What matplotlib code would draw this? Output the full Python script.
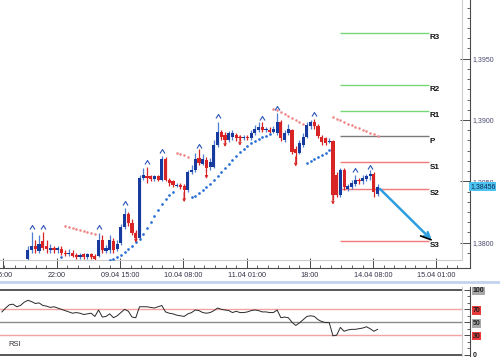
import numpy as np
import matplotlib
matplotlib.use("Agg")
import matplotlib.pyplot as plt
from matplotlib.path import Path
from matplotlib.ticker import FixedLocator, FixedFormatter, MultipleLocator
from matplotlib.transforms import blended_transform_factory
from matplotlib.lines import Line2D

plt.rcParams['font.family'] = ['Liberation Sans', 'DejaVu Sans']

# ---------------- data ----------------
bar_index = list(range(7, 102))
opens = [1.3787, 1.3794, 1.3797, 1.3793, 1.3801, 1.3797, 1.3794, 1.3796, 1.3794, 1.3795,
         1.3792, 1.3791, 1.3792, 1.3790, 1.3788, 1.3791, 1.3788, 1.3791, 1.3789, 1.3789,
         1.3802, 1.3793, 1.3794, 1.3801, 1.3795, 1.3800, 1.3813, 1.3823, 1.3816, 1.3808,
         1.3804, 1.3853, 1.3854, 1.3854, 1.3852, 1.3854, 1.3851, 1.3868, 1.3851, 1.3850,
         1.3846, 1.3847, 1.3846, 1.3843, 1.3858, 1.3859, 1.3869, 1.3864, 1.3867, 1.3862,
         1.3862, 1.3880, 1.3890, 1.3888, 1.3884, 1.3886, 1.3888, 1.3886, 1.3885, 1.3886,
         1.3885, 1.3889, 1.3892, 1.3894, 1.3892, 1.3892, 1.3890, 1.3889, 1.3898, 1.3884,
         1.3889, 1.3892, 1.3876, 1.3873, 1.3880, 1.3886, 1.3895, 1.3898, 1.3895, 1.3886,
         1.3885, 1.3882, 1.3883, 1.3855, 1.3839, 1.3859, 1.3844, 1.3845, 1.3848, 1.3851,
         1.3850, 1.3852, 1.3854, 1.3856, 1.3840]
closes = [1.3794, 1.3797, 1.3795, 1.3799, 1.3796, 1.3795, 1.3796, 1.3794, 1.3796, 1.3792,
          1.3791, 1.3792, 1.3789, 1.3788, 1.3790, 1.3788, 1.3791, 1.3788, 1.3787, 1.3802,
          1.3794, 1.3796, 1.3802, 1.3794, 1.3799, 1.3813, 1.3823, 1.3816, 1.3808, 1.3804,
          1.3853, 1.3855, 1.3853, 1.3852, 1.3854, 1.3851, 1.3868, 1.3851, 1.3849, 1.3847,
          1.3847, 1.3845, 1.3843, 1.3858, 1.3859, 1.3868, 1.3865, 1.3868, 1.3861, 1.3866,
          1.3880, 1.3890, 1.3886, 1.3884, 1.3889, 1.3889, 1.3885, 1.3885, 1.3886, 1.3885,
          1.3889, 1.3893, 1.3894, 1.3892, 1.3893, 1.3890, 1.3893, 1.3898, 1.3885, 1.3889,
          1.3893, 1.3874, 1.3873, 1.3881, 1.3886, 1.3896, 1.3898, 1.3895, 1.3887, 1.3882,
          1.3881, 1.3883, 1.3839, 1.3839, 1.3859, 1.3845, 1.3846, 1.3849, 1.3851, 1.3850,
          1.3853, 1.3854, 1.3856, 1.3841, 1.38456]
highs = [1.3797, 1.3809, 1.3802, 1.3806, 1.3809, 1.3802, 1.3799, 1.3797, 1.3797, 1.3797,
         1.3794, 1.3795, 1.3794, 1.3792, 1.3792, 1.3792, 1.3792, 1.3792, 1.3791, 1.3808,
         1.3806, 1.3798, 1.3806, 1.3804, 1.3802, 1.3815, 1.3828, 1.3825, 1.3819, 1.3810,
         1.3855, 1.3861, 1.3862, 1.3855, 1.3855, 1.3855, 1.3871, 1.3870, 1.3853, 1.3851,
         1.3849, 1.3849, 1.3848, 1.3859, 1.3863, 1.3873, 1.3876, 1.3872, 1.3870, 1.3869,
         1.3884, 1.3898, 1.3892, 1.3890, 1.3891, 1.3892, 1.3889, 1.3888, 1.3888, 1.3888,
         1.3892, 1.3896, 1.3898, 1.3898, 1.3894, 1.3894, 1.3895, 1.3906, 1.3900, 1.3892,
         1.3897, 1.3893, 1.3879, 1.3884, 1.3889, 1.3898, 1.3900, 1.3901, 1.3897, 1.3888,
         1.3886, 1.3885, 1.3884, 1.3858, 1.3861, 1.3861, 1.3848, 1.3851, 1.3855, 1.3853,
         1.3855, 1.3856, 1.3859, 1.3858, 1.3848]
lows = [1.3786, 1.3792, 1.3792, 1.3792, 1.3794, 1.3792, 1.3792, 1.3792, 1.3792, 1.3790,
        1.3789, 1.3789, 1.3788, 1.3787, 1.3787, 1.3787, 1.3787, 1.3787, 1.3786, 1.3788,
        1.3792, 1.3792, 1.3792, 1.3792, 1.3793, 1.3798, 1.3811, 1.3814, 1.3806, 1.3802,
        1.3802, 1.3851, 1.3849, 1.3850, 1.3850, 1.3850, 1.3850, 1.3850, 1.3846, 1.3845,
        1.3845, 1.3844, 1.3836, 1.3841, 1.3856, 1.3858, 1.3863, 1.3863, 1.3858, 1.3859,
        1.3861, 1.3878, 1.3884, 1.3881, 1.3882, 1.3884, 1.3883, 1.3883, 1.3884, 1.3884,
        1.3884, 1.3888, 1.3890, 1.3890, 1.3890, 1.3889, 1.3889, 1.3888, 1.3883, 1.3882,
        1.3888, 1.3872, 1.3865, 1.3872, 1.3878, 1.3885, 1.3893, 1.3893, 1.3885, 1.3880,
        1.3880, 1.3881, 1.3835, 1.3837, 1.3837, 1.3843, 1.3842, 1.3844, 1.3846, 1.3848,
        1.3848, 1.3850, 1.3851, 1.3837, 1.3838]

# Parabolic SAR (blue = below price, red = above price)
sar_blue_index = [16] + list(range(29, 47)) + list(range(51, 73)) + list(range(82, 89))
sar_blue = [1.37883,
            1.37859, 1.37871, 1.37883, 1.37900, 1.37924, 1.37949, 1.37973, 1.38006, 1.38030,
            1.38071, 1.38120, 1.38169, 1.38218, 1.38267, 1.38315, 1.38356, 1.38389, 1.38413,
            1.38372, 1.38381, 1.38405, 1.38430, 1.38454, 1.38478, 1.38511, 1.38544, 1.38576,
            1.38609, 1.38641, 1.38674, 1.38707, 1.38739, 1.38764, 1.38788, 1.38813, 1.38829,
            1.38845, 1.38861, 1.38870, 1.38886,
            1.38650, 1.38666, 1.38682, 1.38698, 1.38715, 1.38731, 1.38755]
sar_red_index = list(range(17, 26)) + list(range(47, 51)) + list(range(73, 82)) + list(range(89, 102))
sar_red = [1.38136, 1.38128, 1.38120, 1.38112, 1.38104, 1.38095, 1.38087, 1.38079, 1.38071,
           1.38731, 1.38723, 1.38715, 1.38698,
           1.39090, 1.39082, 1.39065, 1.39049, 1.39033, 1.39016, 1.39000, 1.38984, 1.38967,
           1.39024, 1.39008, 1.39000, 1.38984, 1.38967, 1.38959, 1.38943, 1.38935, 1.38919,
           1.38910, 1.38894, 1.38886, 1.38870]

# Fractals
fractal_up_index = [8, 11, 26, 33, 39, 43, 53, 58, 70, 74, 84, 95, 99]
fractal_up = [1.3813, 1.3813, 1.3813, 1.3832, 1.3866, 1.3875, 1.3879, 1.3903, 1.3902,
              1.3910, 1.3905, 1.3859, 1.3862]
fractal_down_index = [36, 49, 55, 60, 64, 79, 89]
fractal_down = [1.3800, 1.3833, 1.3852, 1.3878, 1.3879, 1.3862, 1.3831]

# Pivot levels
pivot_names = ['R3', 'R2', 'R1', 'P', 'S1', 'S2', 'S3']
pivot_values = [1.39707, 1.39285, 1.39077, 1.38866, 1.38654, 1.38438, 1.38014]
pivot_colors = ['#77d877', '#77d877', '#77d877', '#7a7a7a', '#f07a7a', '#f07a7a', '#f07a7a']

# Forecast arrow
forecast_x = [102.15, 116.05]
forecast_y = [1.38438, 1.38022]
barb_x = [112.9, 116.05]
barb_y = [1.38057, 1.38022]

last_price = 1.38456
last_price_label = '1,38456'

price_ticks = [1.3800, 1.3850, 1.3900, 1.3950]
price_labels = ['1,3800', '1,3850', '1,3900', '1,3950']
time_ticks = [0.94, 15.3, 32.3, 49.3, 66.3, 83.3, 100.3, 117.3]
time_labels = ['15:00', '22:00', '09.04 15:00', '10.04 08:00', '11.04 01:00',
               '18:00', '14.04 08:00', '15.04 01:00']

rsi = [66, 72, 77, 78, 74, 76, 81, 84, 82, 79,
       80, 76, 75, 73, 74, 72, 70, 68, 66, 64,
       65, 64, 62, 63, 64, 59, 69, 58, 59, 63,
       57, 60, 65, 70, 67, 58, 57, 74, 74, 74,
       73, 72, 74, 76, 66, 64, 63, 61, 60, 59,
       63, 65, 69, 68, 65, 64, 65, 68, 72, 70,
       69, 68, 65, 67, 65, 65, 66, 68, 69, 68,
       66, 66, 65, 65, 69, 57, 58, 57, 50, 45,
       49, 54, 59, 60, 59, 54, 51, 49.5, 49.5, 29,
       30, 42, 36, 38, 39, 39, 40, 41, 43, 40,
       36, 39]
rsi_ticks = [0, 30, 50, 70, 100]
rsi_labels = ['0', '30', '50', '70', '100']
rsi_label_bg = ['none', '#e83a3a', '#a8a8a8', '#e83a3a', '#a8a8a8']

# ---------------- layout ----------------
FIG_W, FIG_H = 500, 358
fig = plt.figure(figsize=(5.0, 3.58), dpi=100)
fig.patch.set_facecolor('white')


def px_box(left, top, right, bottom):
    return [left / FIG_W, 1 - bottom / FIG_H, (right - left) / FIG_W, (bottom - top) / FIG_H]


PX_PER_BAR = 3.72
XMAX = 462 / PX_PER_BAR
AXC = '#4a4a4a'
FRAME = '#cccccc'
BLUE = '#163a9e'
WICK_BLUE = '#4f7dd2'
RED = '#d82424'

ax = fig.add_axes(px_box(0, 0, 462, 260))
rax = fig.add_axes(px_box(0, 287, 462, 356))

Y0, Y1 = 1.37859, 1.39978
ax.set_xlim(0, XMAX)
ax.set_ylim(Y0, Y1)

# candles
x = np.array(bar_index) + 0.5
o = np.array(opens); c = np.array(closes)
h = np.array(highs); l = np.array(lows)
up = c >= o
ax.vlines(x[up], l[up], h[up], color=WICK_BLUE, lw=0.9, zorder=3)
ax.vlines(x[~up], l[~up], h[~up], color=RED, lw=0.9, zorder=3)
bottoms = np.minimum(o, c)
heights = np.maximum(np.abs(c - o), 0.00007)
ax.bar(x[up], heights[up], bottom=bottoms[up], width=0.85, color=BLUE, lw=0, zorder=4)
ax.bar(x[~up], heights[~up], bottom=bottoms[~up], width=0.85, color=RED, lw=0, zorder=4)

# SAR
ax.scatter(np.array(sar_blue_index) + 0.5, sar_blue, s=3.8, color='#2a6fd4', lw=0, zorder=5)
ax.scatter(np.array(sar_red_index) + 0.5, sar_red, s=3.4, color='#ef8585', lw=0, zorder=5)

# fractals
caret = Path([(-1, -0.8), (0, 0.8), (1, -0.8)], [Path.MOVETO, Path.LINETO, Path.LINETO])
ax.plot(np.array(fractal_up_index) + 0.5, fractal_up, ls='none', marker=caret,
        markersize=3.6, mfc='none', mec='#2a55b8', mew=0.8, zorder=6)
for i, v in zip(fractal_down_index, fractal_down):
    ax.annotate('', xy=(i + 0.5, v), xytext=(0, 7), textcoords='offset points',
                arrowprops=dict(arrowstyle='->', color=RED, lw=0.8, mutation_scale=4,
                                shrinkA=0, shrinkB=0), zorder=6)

# pivots
PIV_X0, PIV_X1 = 340 / PX_PER_BAR, 429 / PX_PER_BAR
ax.hlines(pivot_values, PIV_X0, PIV_X1, colors=pivot_colors, lw=1.0, zorder=2)
for name, v in zip(pivot_names, pivot_values):
    ax.annotate(name, xy=(PIV_X1 + 0.1, v), xytext=(0, -3.3), textcoords='offset points',
                ha='left', va='center', fontsize=5.8, fontweight='bold', color='#111111',
                zorder=7)

# forecast arrow
ax.annotate('', xy=(forecast_x[1], forecast_y[1]), xytext=(forecast_x[0], forecast_y[0]),
            arrowprops=dict(arrowstyle='->', color='#2c9ee0', lw=1.8, mutation_scale=10,
                            shrinkA=0, shrinkB=0), zorder=8)
ax.plot(barb_x, barb_y, color='black', lw=1.2, zorder=8, solid_capstyle='butt')

# frame and axes
for s in ['top', 'left']:
    ax.spines[s].set_visible(False)
OUT = 8 * 0.72
ax.spines['right'].set_position(('outward', OUT))
ax.spines['bottom'].set_position(('outward', OUT))
for s in ['right', 'bottom']:
    ax.spines[s].set_color(AXC)
    ax.spines[s].set_linewidth(0.8)
ax.spines['bottom'].set_bounds(0, XMAX + 8 / PX_PER_BAR)
ax.spines['right'].set_bounds(Y0 - 8 * (Y1 - Y0) / 260, Y1)
ax.plot([0, 1, 1], [0, 0, 1], transform=ax.transAxes, color=FRAME, lw=0.8, clip_on=False)

ax.yaxis.tick_right()
ax.yaxis.set_major_locator(FixedLocator(price_ticks))
ax.yaxis.set_major_formatter(FixedFormatter(price_labels))
ax.yaxis.set_minor_locator(MultipleLocator(0.005 / 6))
ax.xaxis.set_major_locator(FixedLocator(time_ticks))
ax.xaxis.set_major_formatter(FixedFormatter(time_labels))
ax.xaxis.set_minor_locator(FixedLocator(np.arange(15.3 - 5 * 17 / 6, XMAX, 17 / 6)))
ax.tick_params(axis='y', which='major', direction='in', length=7, width=0.7, color=AXC,
               labelsize=5, labelcolor='#4a4a72', pad=1.5, left=False, right=True,
               labelleft=False, labelright=True)
ax.tick_params(axis='y', which='minor', direction='in', length=2.5, width=0.6, color=AXC,
               left=False, right=True)
ax.tick_params(axis='x', which='major', direction='in', length=7, width=0.7, color=AXC,
               labelsize=5.2, labelcolor='#33334a', pad=3)
ax.tick_params(axis='x', which='minor', direction='in', length=2.5, width=0.6, color=AXC)

# last price box
ax.text(470 / 462, last_price, last_price_label,
        transform=blended_transform_factory(ax.transAxes, ax.transData),
        ha='left', va='center', fontsize=5, color='#0d2a55', zorder=10, clip_on=False,
        bbox=dict(facecolor='#4cc3f0', edgecolor='none', pad=0.8))

# separator
sep_y = 1 - 282 / FIG_H
fig.add_artist(Line2D([0, 1], [sep_y, sep_y], color='#c4d4ee', lw=2.0))

# ---------------- RSI panel ----------------
rax.set_xlim(0, XMAX)
rax.set_ylim(-2.3, 104.6)
rax.plot(np.arange(len(rsi)) + 0.5, rsi, color='#2a2a2a', lw=0.7, zorder=4)
rax.axhline(70, color='#f2a3a3', lw=1.0, zorder=2)
rax.axhline(30, color='#f2a3a3', lw=1.0, zorder=2)
rax.axhline(50, color='#8a8a8a', lw=1.0, zorder=2)
rax.axhline(100, color='#4a4a4a', lw=1.3, zorder=2)
rax.axhline(0, color='#4a4a4a', lw=1.3, zorder=2)
for s in ['top', 'left', 'bottom']:
    rax.spines[s].set_visible(False)
rax.spines['right'].set_position(('outward', OUT))
rax.spines['right'].set_color(AXC)
rax.spines['right'].set_linewidth(0.8)
rax.plot([1, 1], [0, 1], transform=rax.transAxes, color=FRAME, lw=0.8, clip_on=False)
rax.set_xticks([])
rax.yaxis.tick_right()
rax.yaxis.set_major_locator(FixedLocator(rsi_ticks))
rax.yaxis.set_major_formatter(FixedFormatter(rsi_labels))
rax.yaxis.set_minor_locator(MultipleLocator(10))
rax.tick_params(axis='y', which='major', direction='in', length=4, width=0.7, color=AXC,
                labelsize=5, labelcolor='#222222', pad=2, left=False, right=True,
                labelleft=False, labelright=True)
rax.tick_params(axis='y', which='minor', direction='in', length=2, width=0.6, color=AXC,
                left=False, right=True)
for t, bg in zip(rax.get_yticklabels(), rsi_label_bg):
    t.set_fontweight('bold')
    if bg != 'none':
        t.set_bbox(dict(facecolor=bg, edgecolor='none', pad=0.6))
rax.text(8 / 462, 0.16, 'RSI', transform=rax.transAxes, ha='left', va='center',
         fontsize=5.5, color='#333333')

fig.savefig('out.png', dpi=100, facecolor='white')
